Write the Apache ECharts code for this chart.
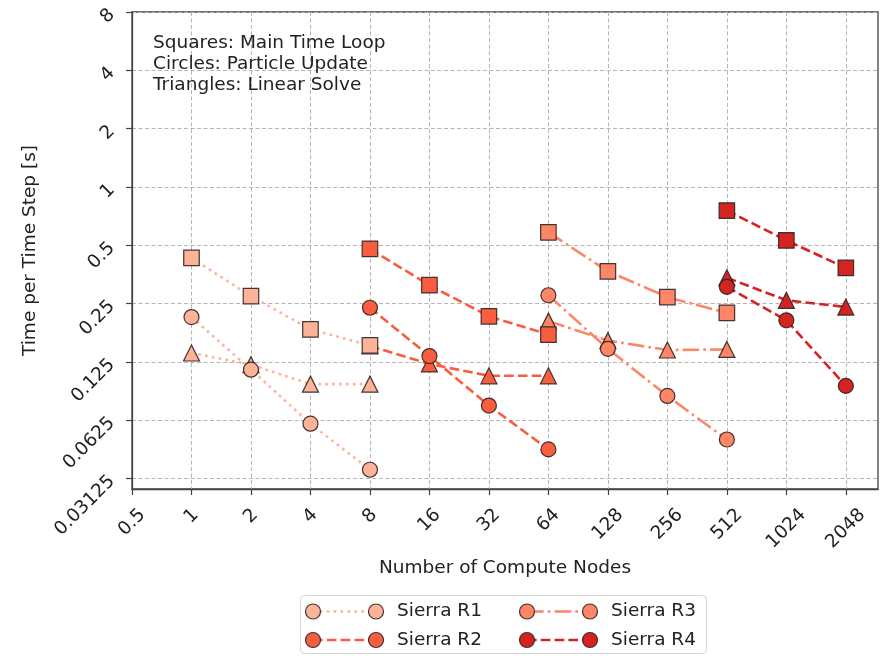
<!DOCTYPE html>
<html>
<head>
<meta charset="utf-8">
<script src="https://cdn.jsdelivr.net/npm/echarts@6/dist/echarts.min.js"></script>
<style>
  html, body { margin: 0; padding: 0; background: #fff; }
  #chart { width: 885px; height: 656px; }
</style>
</head>
<body>
<div id="chart"></div>
<script>
// Strong-scaling timings per machine configuration (seconds per time step).
const seriesNames = ['Sierra R1', 'Sierra R2', 'Sierra R3', 'Sierra R4'];

const r1Nodes = [1, 2, 4, 8];
const r1Loop = [0.43, 0.273, 0.184, 0.152];
const r1Particle = [0.213, 0.114, 0.060, 0.0347];
const r1Solve = [0.139, 0.121, 0.096, 0.096];

const r2Nodes = [8, 16, 32, 64];
const r2Loop = [0.479, 0.311, 0.215, 0.173];
const r2Particle = [0.238, 0.134, 0.0744, 0.0442];
const r2Solve = [0.151, 0.122, 0.106, 0.106];

const r3Nodes = [64, 128, 256, 512];
const r3Loop = [0.583, 0.367, 0.270, 0.224];
const r3Particle = [0.276, 0.146, 0.0834, 0.0497];
const r3Solve = [0.203, 0.161, 0.144, 0.145];

const r4Nodes = [512, 1024, 2048];
const r4Loop = [0.755, 0.530, 0.382];
const r4Particle = [0.305, 0.205, 0.094];
const r4Solve = [0.34, 0.26, 0.24];

const xTickLabels = ['0.5', '1', '2', '4', '8', '16', '32', '64', '128', '256', '512', '1024', '2048'];
const yTickLabels = ['0.03125', '0.0625', '0.125', '0.25', '0.5', '1', '2', '4', '8'];

const noteLines = ['Squares: Main Time Loop', 'Circles: Particle Update', 'Triangles: Linear Solve'];

// ---- styling ----
const FONT = 'DejaVu Sans';
const FS = 18.5;
const TEXT = '#222';
const colors = ['#fcb398', '#f95d40', '#fc8666', '#d42422'];
const dashes = [[2.6, 4.3], [9.6, 4.2], [16.6, 4.2, 2.6, 4.2], [9.6, 4.2]];
const edge = 'rgba(45,35,35,0.9)';

const groups = [
  { nodes: r1Nodes, loop: r1Loop, particle: r1Particle, solve: r1Solve },
  { nodes: r2Nodes, loop: r2Loop, particle: r2Particle, solve: r2Solve },
  { nodes: r3Nodes, loop: r3Loop, particle: r3Particle, solve: r3Solve },
  { nodes: r4Nodes, loop: r4Loop, particle: r4Particle, solve: r4Solve }
];

// triangles first, then circles, squares on top
const markerKinds = [
  { key: 'solve', symbol: 'triangle', size: 16, z: 2 },
  { key: 'particle', symbol: 'circle', size: 15, z: 3 },
  { key: 'loop', symbol: 'rect', size: 15.5, z: 4 }
];

// both axes are base-2 logarithmic: positions are log2 of the values
const xTickValues = xTickLabels.map(s => Math.log2(parseFloat(s)));
const yTickValues = yTickLabels.map(s => Math.log2(parseFloat(s)));
const xMin = Math.log2(0.5), xMax = Math.log2(2979);
const yMin = Math.log2(0.0276), yMax = Math.log2(8);

const series = [];
markerKinds.forEach(mk => {
  groups.forEach((g, gi) => {
    series.push({
      type: 'line',
      name: seriesNames[gi],
      data: g.nodes.map((n, i) => [Math.log2(n), Math.log2(g[mk.key][i])]),
      symbol: mk.symbol,
      symbolSize: mk.size,
      showAllSymbol: true,
      z: mk.z,
      lineStyle: { color: colors[gi], width: 2.6, type: dashes[gi], cap: 'butt' },
      itemStyle: { color: colors[gi], borderColor: edge, borderWidth: 1.2 },
      emphasis: { disabled: true },
      silent: true,
      animation: false
    });
  });
});

// rotated x labels are centred under their tick, like a bbox-centred rotation
const measureCtx = document.createElement('canvas').getContext('2d');
measureCtx.font = FS + 'px "' + FONT + '"';
const xRich = {};
xTickLabels.forEach((s, i) => {
  const w = measureCtx.measureText(s).width;
  const p = w / 2;
  xRich['x' + i] = { fontFamily: FONT, fontSize: FS, color: TEXT, padding: [p, p, 0, 0] };
});

function findTick(values, v) {
  for (let i = 0; i < values.length; i++) if (Math.abs(values[i] - v) < 1e-6) return i;
  return -1;
}

const gridLine = { show: true, lineStyle: { color: '#b5b5b5', width: 1, type: [4, 2.5] } };

const legendX = 300.5, legendY = 595.5, legendW = 406, legendH = 58;
const legendCols = [313, 527];
const legendRows = [611.5, 640];
const legendSpan = 63;
const legendTextGap = 21;

const legendChildren = [{
  type: 'rect',
  shape: { x: legendX, y: legendY, width: legendW, height: legendH, r: 4 },
  style: { fill: 'rgba(255,255,255,0.85)', stroke: '#d4d4d4', lineWidth: 1 }
}];
seriesNames.forEach((name, i) => {
  const col = Math.floor(i / 2), row = i % 2;
  const x0 = legendCols[col], y0 = legendRows[row];
  legendChildren.push({
    type: 'line',
    shape: { x1: x0, y1: y0, x2: x0 + legendSpan, y2: y0 },
    style: { stroke: colors[i], lineWidth: 2.6, lineDash: dashes[i], lineCap: 'butt' }
  });
  [x0, x0 + legendSpan].forEach(cx => legendChildren.push({
    type: 'circle',
    shape: { cx: cx, cy: y0, r: 7.5 },
    style: { fill: colors[i], stroke: edge, lineWidth: 1.2 }
  }));
  legendChildren.push({
    type: 'text',
    style: { x: x0 + legendSpan + legendTextGap, y: y0, text: name, font: FS + 'px "' + FONT + '"', fill: TEXT, verticalAlign: 'middle' }
  });
});

const axisLineStyle = { show: true, onZero: false, lineStyle: { color: '#444', width: 1.3 } };

const option = {
  backgroundColor: '#fff',
  animation: false,
  grid: {
    left: 132, right: 7, top: 12, bottom: 167,
    containLabel: false,
    outerBoundsMode: 'none',
    show: true, borderColor: '#444', borderWidth: 1.3, backgroundColor: 'transparent'
  },
  xAxis: {
    type: 'value',
    min: xMin, max: xMax,
    minInterval: 1, maxInterval: 1, splitNumber: 12,
    name: 'Number of Compute Nodes',
    nameLocation: 'middle',
    nameGap: 67,
    nameTextStyle: { fontFamily: FONT, fontSize: FS, color: TEXT },
    axisLine: axisLineStyle,
    axisTick: { show: true, length: 6, lineStyle: { color: '#444', width: 1.2 }, customValues: xTickValues },
    splitLine: gridLine,
    axisLabel: {
      customValues: xTickValues,
      rotate: 45,
      align: 'center',
      verticalAlign: 'middle',
      margin: 23,
      formatter: v => {
        const i = findTick(xTickValues, v);
        return i < 0 ? '' : '{x' + i + '|' + xTickLabels[i] + '}';
      },
      rich: xRich,
      fontFamily: FONT, fontSize: FS, color: TEXT
    }
  },
  yAxis: {
    type: 'value',
    min: yMin, max: yMax,
    minInterval: 1, maxInterval: 1, splitNumber: 8,
    name: 'Time per Time Step [s]',
    nameLocation: 'middle',
    nameRotate: 90,
    nameGap: 92,
    nameTextStyle: { fontFamily: FONT, fontSize: FS, color: TEXT },
    axisLine: axisLineStyle,
    axisTick: { show: true, length: 6, lineStyle: { color: '#444', width: 1.2 }, customValues: yTickValues },
    splitLine: gridLine,
    axisLabel: {
      customValues: yTickValues,
      rotate: 45,
      margin: 20,
      formatter: v => {
        const i = findTick(yTickValues, v);
        return i < 0 ? '' : yTickLabels[i];
      },
      fontFamily: FONT, fontSize: FS, color: TEXT
    }
  },
  graphic: [
    {
      type: 'text',
      left: 153, top: 33,
      z: 10,
      style: { text: noteLines.join('\n'), font: FS + 'px "' + FONT + '"', lineHeight: 21, fill: TEXT }
    },
    { type: 'group', z: 10, children: legendChildren }
  ],
  series: series
};

const chart = echarts.init(document.getElementById('chart'), null, { renderer: 'canvas' });
chart.setOption(option);
</script>
</body>
</html>
